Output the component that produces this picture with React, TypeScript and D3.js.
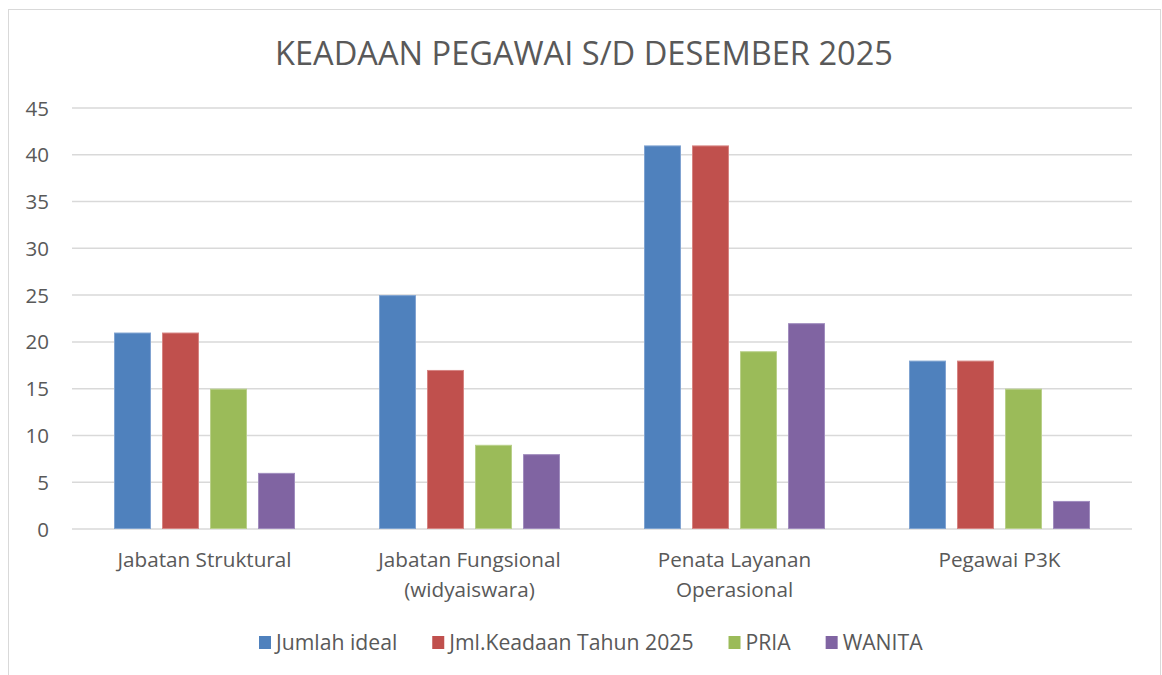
import React, { useEffect, useRef } from "react";
import * as d3 from "d3";

const categories = ["Jabatan Struktural", "Jabatan Fungsional\n(widyaiswara)", "Penata Layanan\nOperasional", "Pegawai P3K"];
const seriesNames = ["Jumlah ideal", "Jml.Keadaan Tahun 2025", "PRIA", "WANITA"];
const jumlahIdeal = [21, 25, 41, 18];
const jmlKeadaan = [21, 17, 41, 18];
const pria = [15, 9, 19, 15];
const wanita = [6, 8, 22, 3];
const yTicks = [0, 5, 10, 15, 20, 25, 30, 35, 40, 45];
const colors = ["#4F81BD", "#C0504D", "#9BBB59", "#8064A2"];
const strokes = ["#7FA3D1", "#D68482", "#B9D08A", "#A08CBE"];
const title = "KEADAAN PEGAWAI S/D DESEMBER 2025";

const FONT = "'Open Sans', sans-serif";
const TEXT = "#595959";

export default function App() {
  const ref = useRef<SVGSVGElement>(null);
  useEffect(() => {
    const svg = d3.select(ref.current);
    svg.selectAll("*").remove();
    const series = [jumlahIdeal, jmlKeadaan, pria, wanita];

    svg.append("rect").attr("x", 8.5).attr("y", 9.5).attr("width", 1152).attr("height", 700)
      .attr("fill", "#fff").attr("stroke", "#d9d9d9").attr("stroke-width", 1);

    const left = 72, right = 1132;
    const y = d3.scaleLinear().domain([0, 45]).range([529, 108]);
    const x0 = d3.scaleBand<string>().domain(categories).range([left, right]).padding(0);
    const gp = 42;
    const x1 = d3.scaleBand<number>().domain(d3.range(4)).range([gp, x0.bandwidth() - gp]).paddingInner(0.23).paddingOuter(0);

    svg.append("text").attr("x", 584).attr("y", 65).attr("text-anchor", "middle")
      .attr("font-family", FONT).attr("font-size", 32.6).attr("fill", TEXT).text(title);

    const grid = svg.append("g");
    yTicks.forEach((t) => {
      grid.append("line").attr("x1", left).attr("x2", right).attr("y1", y(t)).attr("y2", y(t))
        .attr("stroke", "#d9d9d9").attr("stroke-width", 1.5);
      grid.append("text").attr("x", 49).attr("y", y(t) + 7.5).attr("text-anchor", "end")
        .attr("font-family", FONT).attr("font-size", 20.5).attr("fill", TEXT).text(String(t));
    });

    const bars = svg.append("g");
    categories.forEach((c, ci) => {
      series.forEach((s, si) => {
        const bx = (x0(c) as number) + (x1(si) as number);
        bars.append("rect").attr("x", bx + 0.5).attr("y", y(s[ci]) + 0.5)
          .attr("width", x1.bandwidth() - 1).attr("height", y(0) - y(s[ci]) - 1)
          .attr("fill", colors[si]).attr("stroke", strokes[si]).attr("stroke-width", 1);
      });
      const lines = c.split("\n");
      const cx = (x0(c) as number) + x0.bandwidth() / 2;
      lines.forEach((ln, li) => {
        svg.append("text").attr("x", cx).attr("y", 567 + li * 30).attr("text-anchor", "middle")
          .attr("font-family", FONT).attr("font-size", 20.7).attr("fill", TEXT).text(ln);
      });
    });

    const legend = svg.append("g");
    let lx = 259;
    seriesNames.forEach((n, i) => {
      legend.append("rect").attr("x", lx).attr("y", 636).attr("width", 12).attr("height", 13).attr("fill", colors[i]);
      const t = legend.append("text").attr("x", lx + 17).attr("y", 650).attr("font-family", FONT)
        .attr("font-size", 21.2).attr("fill", TEXT).text(n);
      const w = (t.node() as SVGTextElement).getComputedTextLength();
      lx += 17 + w + 35;
    });
  }, []);
  return (
    <svg ref={ref} width={1162} height={675} style={{ position: "absolute", left: 0, top: 0, background: "#fff" }} />
  );
}
